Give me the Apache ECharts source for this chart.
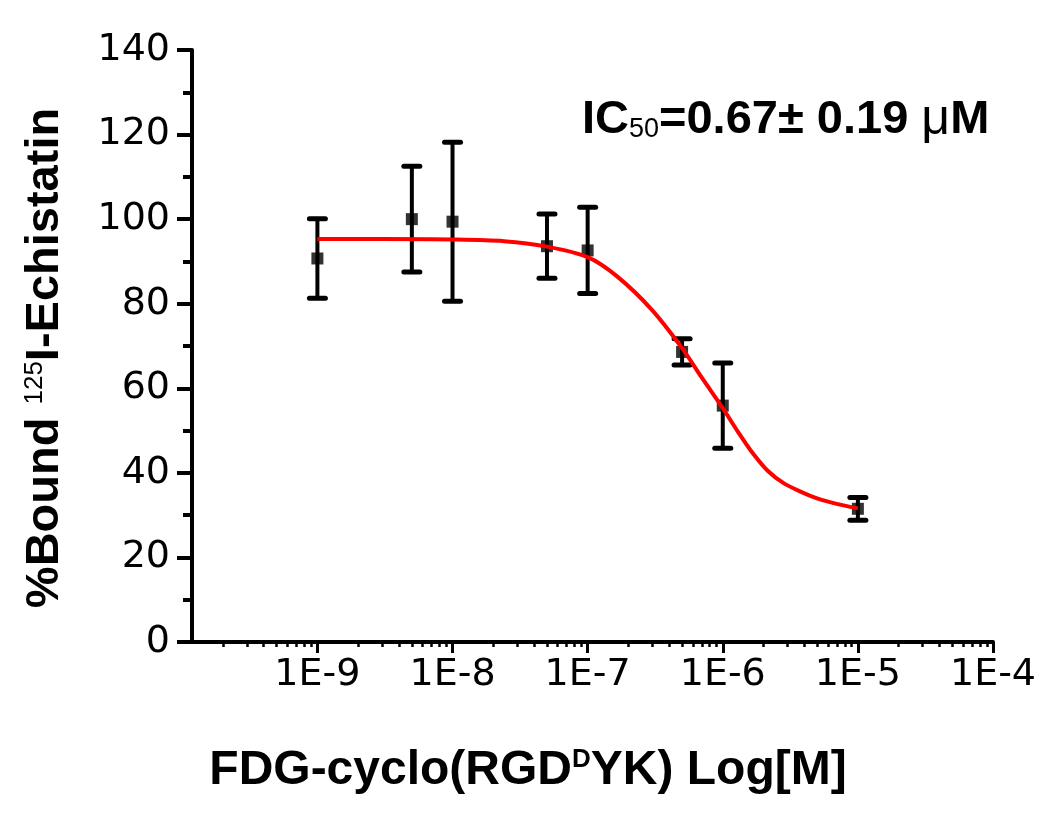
<!DOCTYPE html>
<html><head><meta charset="utf-8">
<script src="https://cdn.jsdelivr.net/npm/echarts@6/dist/echarts.min.js"></script>
<style>html,body{margin:0;padding:0;background:#fff}#c{width:1050px;height:824px}</style>
</head><body><div id="c"></div>
<script>
const concentrations = [1e-9, 5e-9, 1e-8, 5e-8, 1e-7, 5e-7, 1e-6, 1e-5];
const boundMean = [90.7, 100.0, 99.4, 93.6, 92.6, 68.6, 55.9, 31.5];
const boundErr = [9.4, 12.5, 18.8, 7.6, 10.2, 3.1, 10.1, 2.7];
// Fitted curve, points
const fitConc = [1e-9, 3e-9, 1e-8, 2.4e-8, 5e-8, 1e-7, 1.66e-7, 3e-7, 5e-7, 7e-7, 1e-6, 1.29e-6, 1.61e-6, 2.15e-6, 2.84e-6, 3.8e-6, 5.05e-6, 7.1e-6, 1e-5];
const fitBound = [95.3, 95.3, 95.2, 94.8, 93.5, 91.0, 86.4, 78.5, 69.5, 62.5, 55.3, 49.8, 45.3, 40.5, 37.5, 35.5, 33.9, 32.6, 31.6];
// Axis ticks
const xMajorTicks = [1e-9, 1e-8, 1e-7, 1e-6, 1e-5, 1e-4];
const xTickLabels = ['1E-9', '1E-8', '1E-7', '1E-6', '1E-5', '1E-4'];
const xMin = 1.18e-10, xMax = 1e-4;
const yMin = 0, yMax = 140, yStep = 20;

const xMinorTicks = [];
for (let e = -10; e <= -5; e++) {
  for (let m = 2; m <= 9; m++) {
    const v = m * Math.pow(10, e);
    if (v > xMin && v < xMax) xMinorTicks.push(v);
  }
}

const TICK_FONT = 'DejaVu Sans';
const TITLE_FONT = 'Liberation Sans';

const chart = echarts.init(document.getElementById('c'), null, {renderer: 'canvas'});
const gridBox = {left: 192, right: 57, top: 50, bottom: 182};

chart.setOption({
  animation: false,
  backgroundColor: '#fff',
  grid: [Object.assign({}, gridBox), Object.assign({}, gridBox)],
  xAxis: [{
    type: 'log', logBase: 10, min: xMin, max: xMax, gridIndex: 0,
    axisLine: {lineStyle: {color: '#000', width: 4}},
    axisTick: {show: true, length: 11, lineStyle: {color: '#000', width: 3}, customValues: xMajorTicks},
    axisLabel: {
      customValues: xMajorTicks, margin: 14, color: '#000',
      fontFamily: TICK_FONT, fontSize: 38,
      formatter: function (v) {
        const i = xMajorTicks.findIndex(t => Math.abs(Math.log10(t) - Math.log10(v)) < 1e-6);
        return i >= 0 ? xTickLabels[i] : '';
      }
    },
    splitLine: {show: false}, minorTick: {show: false}
  }, {
    type: 'log', logBase: 10, min: xMin, max: xMax, gridIndex: 1, position: 'bottom',
    axisLine: {show: false},
    axisTick: {show: true, length: 5, lineStyle: {color: '#000', width: 2.5}, customValues: xMinorTicks},
    axisLabel: {show: false},
    splitLine: {show: false}
  }],
  yAxis: [{
    type: 'value', min: yMin, max: yMax, interval: yStep, gridIndex: 0,
    axisLine: {show: true, lineStyle: {color: '#000', width: 4}},
    axisTick: {show: true, length: 15, lineStyle: {color: '#000', width: 4}},
    minorTick: {show: true, splitNumber: 2, length: 9, lineStyle: {color: '#000', width: 4}},
    axisLabel: {margin: 22, color: '#000', fontFamily: TICK_FONT, fontSize: 38},
    splitLine: {show: false}, minorSplitLine: {show: false}
  }, {
    type: 'value', min: yMin, max: yMax, gridIndex: 1, show: false
  }],
  graphic: [{
    type: 'text', x: 528, y: 771, z: 100,
    style: {
      text: '{m|FDG-cyclo(RGD}{s|D}{m|YK) Log[M]}',
      align: 'center', verticalAlign: 'middle',
      rich: {
        m: {fontFamily: TITLE_FONT, fontWeight: 'bold', fontSize: 48, fill: '#000', lineHeight: 48},
        s: {fontFamily: TITLE_FONT, fontWeight: 'bold', fontSize: 26, fill: '#000', lineHeight: 26, verticalAlign: 'top'}
      }
    }
  }, {
    type: 'text', x: 45, y: 358, rotation: Math.PI / 2, z: 100,
    style: {
      text: '{m|%Bound }{s|125}{m|I-Echistatin}',
      align: 'center', verticalAlign: 'middle',
      rich: {
        m: {fontFamily: TITLE_FONT, fontWeight: 'bold', fontSize: 47, fill: '#000', lineHeight: 47},
        s: {fontFamily: TITLE_FONT, fontWeight: 'normal', fontSize: 26, fill: '#000', lineHeight: 26, verticalAlign: 'top'}
      }
    }
  }, {
    type: 'text', x: 582, y: 120, z: 100,
    style: {
      text: '{m|IC}{s|50}{m|=0.67± 0.19 }{u|μ}{m|M}',
      align: 'left', verticalAlign: 'middle',
      rich: {
        m: {fontFamily: TITLE_FONT, fontWeight: 'bold', fontSize: 47, fill: '#000', lineHeight: 47},
        s: {fontFamily: TITLE_FONT, fontWeight: 'normal', fontSize: 27, fill: '#000', lineHeight: 27, verticalAlign: 'bottom'},
        u: {fontFamily: TITLE_FONT, fontWeight: 'normal', fontSize: 50, fill: '#000', lineHeight: 47}
      }
    }
  }],
  series: [{
    type: 'custom', name: 'error', xAxisIndex: 0, yAxisIndex: 0, z: 2,
    data: concentrations.map((c, i) => [c, boundMean[i] - boundErr[i], boundMean[i] + boundErr[i]]),
    encode: {x: 0, y: [1, 2]},
    renderItem: function (params, api) {
      const x = api.value(0), lo = api.value(1), hi = api.value(2);
      const pLo = api.coord([x, lo]), pHi = api.coord([x, hi]);
      const hw = 8;
      const st = {stroke: '#000', lineWidth: 4};
      return {
        type: 'group', children: [
          {type: 'line', shape: {x1: pLo[0], y1: pLo[1], x2: pHi[0], y2: pHi[1]}, style: st},
          {type: 'line', shape: {x1: pLo[0] - hw, y1: pLo[1], x2: pLo[0] + hw, y2: pLo[1]}, style: {stroke: '#000', lineWidth: 5, lineCap: 'round'}},
          {type: 'line', shape: {x1: pHi[0] - hw, y1: pHi[1], x2: pHi[0] + hw, y2: pHi[1]}, style: {stroke: '#000', lineWidth: 5, lineCap: 'round'}}
        ]
      };
    }
  }, {
    type: 'scatter', name: 'mean', xAxisIndex: 0, yAxisIndex: 0, z: 3,
    symbol: 'rect', symbolSize: 12,
    itemStyle: {color: '#000'},
    data: concentrations.map((c, i) => [c, boundMean[i]])
  }, {
    type: 'line', name: 'fit', xAxisIndex: 0, yAxisIndex: 0, z: 5,
    smooth: 0.3, showSymbol: false, symbol: 'none',
    lineStyle: {color: '#ff0000', width: 4},
    data: fitConc.map((c, i) => [c, fitBound[i]])
  }]
});
</script>
</body></html>
